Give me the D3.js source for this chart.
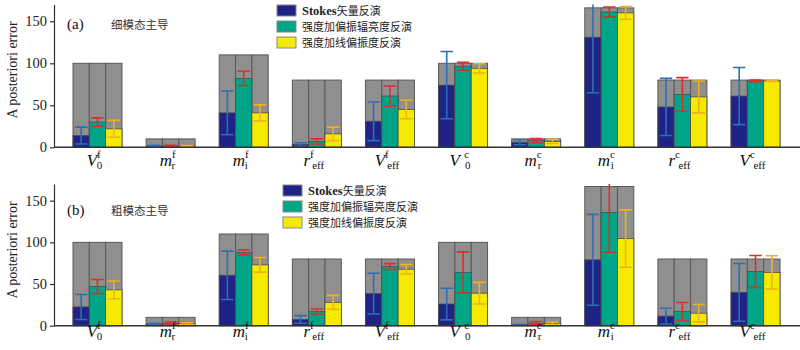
<!DOCTYPE html>
<html><head><meta charset="utf-8">
<script src="https://cdn.jsdelivr.net/npm/d3@7"></script>
<style>body{margin:0;background:#fff}svg{display:block}</style>
</head><body><svg id="c" width="800" height="350"></svg>
<script>
// categories (label parts)
const catMain = ["V","m","m","r","V","V\u00a0","m","m","r","V"];
const catSup  = ["f","f","f","f","f","c","c","c","c","c"];
const catSub  = ["0","r","i","eff","eff","0","r","i","eff","eff"];
const seriesLatin = ["Stokes","",""];
const seriesCJK = ["矢量反演","强度加偏振辐亮度反演","强度加线偏振度反演"];
const yTicks = [0,50,100,150];

// Panel (a) 细模态主导
const priorA   = [100, 10, 110, 80, 80, 100, 10, 166, 80, 80];
const stokesA  = [14, 1.5, 41, 3.5, 31, 74, 6, 131, 48, 61];
const stokesErrA = [10, 1, 26, 2, 23, 40, 3, 66, 34, 34];
const radA     = [30, 1.5, 82, 7, 61, 96.5, 8, 161, 63, 79];
const radErrA  = [5, 1, 8.5, 3, 12, 4.8, 2.5, 6, 20, 1];
const linA     = [22, 1.5, 41, 16, 45, 94, 7, 160, 60, 79];
const linErrA  = [10, 0.6, 9.5, 8, 11, 5.5, 2.5, 7.5, 19, 0.6];

// Panel (b) 粗模态主导
const priorB   = [100, 10, 110, 80, 80, 100, 10, 167, 80, 80];
const stokesB  = [22.5, 2, 60.5, 7.5, 38.5, 26, 1, 79, 11.5, 40];
const stokesErrB = [15, 1, 29, 4.6, 24.5, 19, 0.6, 54.5, 9.4, 34.6];
const radB     = [47, 3, 88, 17, 71, 64, 3, 136, 17, 65];
const radErrB  = [8.4, 1.5, 3, 3, 3.5, 24.6, 2, 48, 10.8, 19.2];
const linB     = [43, 2.5, 73, 28, 67.7, 39, 3, 104.5, 15, 64];
const linErrB  = [10.6, 1, 8.75, 8.4, 5.6, 13, 1.5, 34.4, 10.4, 20];

const barColors = ["#1f2386","#00a487","#f6eb00"];
const errColors = ["#2f6db5","#d8312c","#eeb11f"];
const gray = "#8f8f8f", grayStroke = "#595959";
const serif = "'Liberation Serif','Times New Roman',serif";
const cjkFont = "'Noto Sans CJK SC',sans-serif";

const svg = d3.select("#c");
const keys = d3.range(catMain.length);
const x = d3.scaleBand().domain(keys).range([73, 780]).paddingInner(0.33).paddingOuter(0);
const xs = d3.scaleBand().domain([0,1,2]).range([0, x.bandwidth()]);

function panel(cfg, idx){
  const y = d3.scaleLinear().domain([0,170]).range([cfg.y0, cfg.yTop]);
  const g = svg.append("g");
  const clipId = "clip"+idx;
  svg.append("clipPath").attr("id", clipId).append("rect")
    .attr("x", 54).attr("y", cfg.yTop).attr("width", 746).attr("height", cfg.y0 - cfg.yTop);

  const series = [
    {v: cfg.stokes, e: cfg.stokesErr},
    {v: cfg.rad, e: cfg.radErr},
    {v: cfg.lin, e: cfg.linErr}
  ];
  keys.forEach(k => {
    [0,1,2].forEach(s => {
      g.append("rect").attr("x", x(k)+xs(s)).attr("width", xs.bandwidth())
        .attr("y", y(cfg.prior[k])).attr("height", y(0)-y(cfg.prior[k]))
        .attr("fill", gray).attr("stroke", grayStroke).attr("stroke-width", 1);
    });
  });
  series.forEach((sr, s) => {
    g.selectAll(null).data(keys).enter().append("rect")
      .attr("x", k => x(k)+xs(s)).attr("width", xs.bandwidth())
      .attr("y", k => y(sr.v[k])).attr("height", k => y(0)-y(sr.v[k]))
      .attr("fill", barColors[s]).attr("stroke", "#4d4d4d").attr("stroke-width", 0.8);
  });
  const eg = g.append("g").attr("clip-path", `url(#${clipId})`);
  series.forEach((sr, s) => {
    keys.forEach(k => {
      const cx = x(k)+xs(s)+xs.bandwidth()/2;
      const lo = y(Math.max(0, sr.v[k]-sr.e[k])), hi = y(sr.v[k]+sr.e[k]);
      const w = 6.2;
      const c = errColors[s];
      eg.append("line").attr("x1",cx).attr("x2",cx).attr("y1",lo).attr("y2",hi).attr("stroke",c).attr("stroke-width",1.6);
      eg.append("line").attr("x1",cx-w).attr("x2",cx+w).attr("y1",lo).attr("y2",lo).attr("stroke",c).attr("stroke-width",1.6);
      eg.append("line").attr("x1",cx-w).attr("x2",cx+w).attr("y1",hi).attr("y2",hi).attr("stroke",c).attr("stroke-width",1.6);
    });
  });
  const ya = svg.append("g").attr("transform","translate(54,0)")
    .call(d3.axisLeft(y).tickValues(yTicks).tickSize(4).tickSizeOuter(0).tickPadding(3));
  ya.select(".domain").attr("stroke","#333").attr("stroke-width",1.2);
  ya.selectAll(".tick line").attr("stroke","#333").attr("stroke-width",1.2);
  ya.selectAll("text").attr("font-family", serif).attr("font-size", 14.5).attr("fill","#222");
  svg.append("line").attr("x1",54).attr("x2",800).attr("y1",y(0)).attr("y2",y(0))
    .attr("stroke","#333").attr("stroke-width",1.5);
  keys.forEach(k => {
    const t = svg.append("text").attr("x", x(k)+x.bandwidth()/2 - 3).attr("y", cfg.labelY)
      .attr("text-anchor","middle").attr("font-family", serif).attr("fill","#111")
      .style("white-space","pre");
    t.append("tspan").attr("font-style","italic").attr("font-size",17).text(catMain[k]);
    t.append("tspan").attr("font-size",11).attr("dy",-8).text(catSup[k]);
    t.append("tspan").attr("font-size",11).attr("dx", catSub[k].length>1 ? -1.5 : -4).attr("dy",11).text(catSub[k]);
  });
  svg.append("text").attr("transform",`translate(17,${cfg.yLabelC}) rotate(-90)`)
    .attr("text-anchor","middle").attr("font-family", serif).attr("font-size",14).attr("fill","#222")
    .text("A posteriori error");
  svg.append("text").attr("x",67).attr("y",cfg.tagY).attr("font-family",serif).attr("font-size",15).attr("fill","#111").text(cfg.tag);
  svg.append("text").attr("x",111).attr("y",cfg.tagY).attr("font-family",cjkFont).attr("font-size",11.5).attr("fill","#333").text(cfg.title);
  seriesCJK.forEach((nm, s) => {
    const ly = cfg.legY + s*cfg.legStep;
    svg.append("rect").attr("x",cfg.legX).attr("y",ly).attr("width",19).attr("height",11)
      .attr("fill",barColors[s]).attr("stroke","#888").attr("stroke-width",1);
    const t = svg.append("text").attr("x",cfg.legX+25).attr("y",ly+10).attr("fill","#222");
    if (seriesLatin[s]) t.append("tspan").attr("font-family",serif).attr("font-weight","bold").attr("font-size",12.5).text(seriesLatin[s]);
    t.append("tspan").attr("font-family",cjkFont).attr("font-size",11).text(nm);
  });
}

panel({y0:147.3, yTop:4.5, prior:priorA, stokes:stokesA, stokesErr:stokesErrA, rad:radA, radErr:radErrA, lin:linA, linErr:linErrA,
  labelY:165.5, yLabelC:70, tag:"(a)", title:"细模态主导", tagY:29, legX:277, legY:5, legStep:16}, 0);
panel({y0:325.7, yTop:184, prior:priorB, stokes:stokesB, stokesErr:stokesErrB, rad:radB, radErr:radErrB, lin:linB, linErr:linErrB,
  labelY:337, yLabelC:250, tag:"(b)", title:"粗模态主导", tagY:215, legX:283, legY:185, legStep:16}, 1);
</script></body></html>
